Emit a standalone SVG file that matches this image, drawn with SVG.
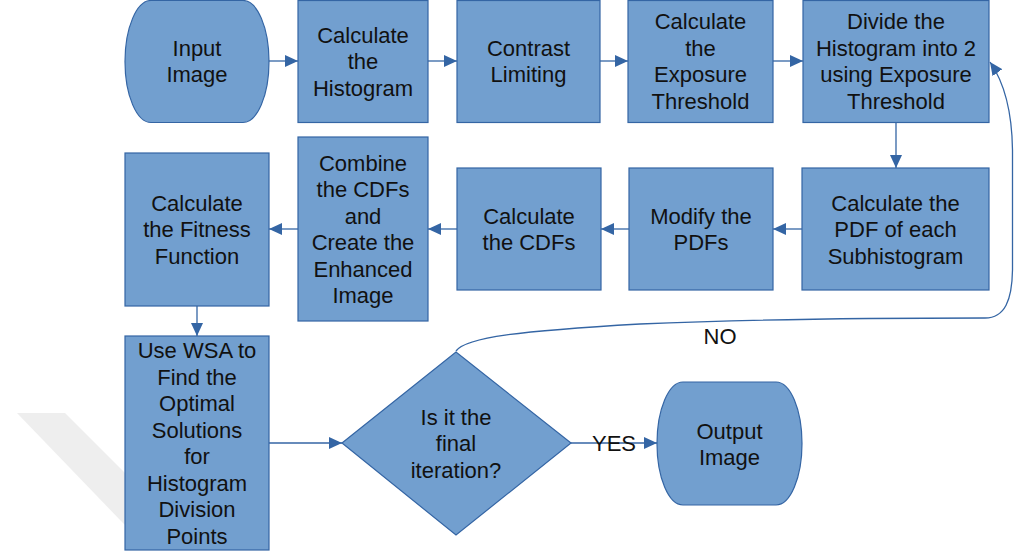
<svg xmlns="http://www.w3.org/2000/svg" width="1014" height="555" viewBox="0 0 1014 555">
<style>
.n{fill:#729fcf;stroke:#3465a4;stroke-width:1.2}
.t{font-family:"Liberation Sans",Arial,sans-serif;font-size:22px;fill:#111;text-anchor:middle}
.c{fill:none;stroke:#3465a4;stroke-width:1.3}
</style>
<defs>
<marker id="a" viewBox="0 0 13 12" refX="13" refY="6" markerWidth="13" markerHeight="12" orient="auto" markerUnits="userSpaceOnUse"><path d="M0,0 L13,6 L0,12 z" fill="#3465a4"/></marker>
</defs>
<rect width="1014" height="555" fill="#fff"/>
<polygon points="17,413 65,413 140,488 140,540 122,522" fill="#eeeeee"/>
<g id="connectors">
<line class="c" x1="269" y1="61" x2="298" y2="61" marker-end="url(#a)"/>
<line class="c" x1="428" y1="61" x2="457" y2="61" marker-end="url(#a)"/>
<line class="c" x1="600" y1="61" x2="628" y2="61" marker-end="url(#a)"/>
<line class="c" x1="773" y1="61" x2="803" y2="61" marker-end="url(#a)"/>
<line class="c" x1="896" y1="122" x2="896" y2="168" marker-end="url(#a)"/>
<line class="c" x1="802" y1="229" x2="773" y2="229" marker-end="url(#a)"/>
<line class="c" x1="629" y1="229" x2="601" y2="229" marker-end="url(#a)"/>
<line class="c" x1="457" y1="229" x2="428" y2="229" marker-end="url(#a)"/>
<line class="c" x1="298" y1="229" x2="269" y2="229" marker-end="url(#a)"/>
<line class="c" x1="197" y1="306" x2="197" y2="336" marker-end="url(#a)"/>
<line class="c" x1="269" y1="443" x2="342" y2="443" marker-end="url(#a)"/>
<line class="c" x1="571" y1="443" x2="657" y2="443" marker-end="url(#a)"/>
<path class="c" d="M456,351 C466,337 520,331 640,324 C760,319 900,318 985,318 C1005,318 1012,300 1012.5,270 L1012.5,150 C1012,112 1004,82 990,62" marker-end="url(#a)"/>
<text class="t" x="720" y="344">NO</text>
<text class="t" x="614" y="451">YES</text>
</g>
<g id="input"><rect class="n" x="125" y="0.5" width="144" height="122" rx="26" ry="61"/>
<text class="t" x="197" y="56">Input</text><text class="t" x="197" y="82">Image</text></g>
<g id="hist"><rect class="n" x="298" y="0.5" width="130" height="122"/>
<text class="t" x="363" y="42.5">Calculate</text><text class="t" x="363" y="69">the</text><text class="t" x="363" y="95.5">Histogram</text></g>
<g id="contrast"><rect class="n" x="457" y="0.5" width="143" height="122"/>
<text class="t" x="528.5" y="56">Contrast</text><text class="t" x="528.5" y="82">Limiting</text></g>
<g id="exposure"><rect class="n" x="628" y="0.5" width="145" height="122"/>
<text class="t" x="700.5" y="29">Calculate</text><text class="t" x="700.5" y="56">the</text><text class="t" x="700.5" y="82">Exposure</text><text class="t" x="700.5" y="109">Threshold</text></g>
<g id="divide"><rect class="n" x="803" y="0.5" width="186" height="122"/>
<text class="t" x="896" y="29">Divide the</text><text class="t" x="896" y="56">Histogram into 2</text><text class="t" x="896" y="82">using Exposure</text><text class="t" x="896" y="109">Threshold</text></g>
<g id="pdf"><rect class="n" x="802" y="168" width="187" height="122"/>
<text class="t" x="895.5" y="210.5">Calculate the</text><text class="t" x="895.5" y="237">PDF of each</text><text class="t" x="895.5" y="263.5">Subhistogram</text></g>
<g id="modify"><rect class="n" x="629" y="168" width="144" height="122"/>
<text class="t" x="701" y="223.5">Modify the</text><text class="t" x="701" y="250">PDFs</text></g>
<g id="cdfs"><rect class="n" x="457" y="168" width="144" height="122"/>
<text class="t" x="529" y="223.5">Calculate</text><text class="t" x="529" y="250">the CDFs</text></g>
<g id="combine"><rect class="n" x="298" y="137" width="130" height="184"/>
<text class="t" x="363" y="170.5">Combine</text><text class="t" x="363" y="197">the CDFs</text><text class="t" x="363" y="223.5">and</text><text class="t" x="363" y="250">Create the</text><text class="t" x="363" y="276.5">Enhanced</text><text class="t" x="363" y="303">Image</text></g>
<g id="fitness"><rect class="n" x="125" y="153" width="144" height="153"/>
<text class="t" x="197" y="210.5">Calculate</text><text class="t" x="197" y="237">the Fitness</text><text class="t" x="197" y="263.5">Function</text></g>
<g id="wsa"><rect class="n" x="125" y="336" width="144" height="214"/>
<text class="t" x="197" y="358">Use WSA to</text><text class="t" x="197" y="384.5">Find the</text><text class="t" x="197" y="411">Optimal</text><text class="t" x="197" y="437.5">Solutions</text><text class="t" x="197" y="464">for</text><text class="t" x="197" y="490.5">Histogram</text><text class="t" x="197" y="517">Division</text><text class="t" x="197" y="543.5">Points</text></g>
<g id="decision"><polygon class="n" points="342,443 456,352 571,443 456,535"/>
<text class="t" x="456" y="424.5">Is it the</text><text class="t" x="456" y="451">final</text><text class="t" x="456" y="477.5">iteration?</text></g>
<g id="output"><rect class="n" x="657" y="382" width="145" height="123" rx="26" ry="61.5"/>
<text class="t" x="729.5" y="439">Output</text><text class="t" x="729.5" y="465">Image</text></g>
</svg>
